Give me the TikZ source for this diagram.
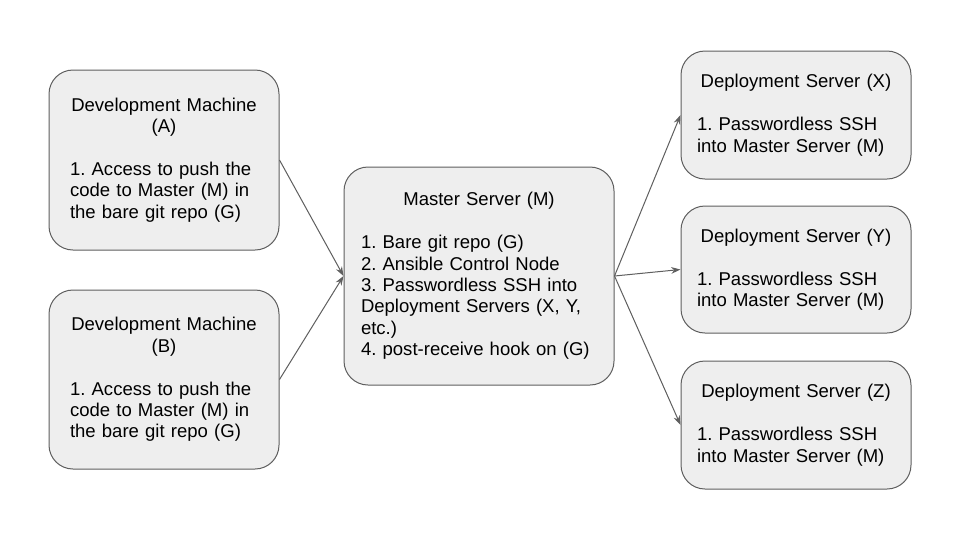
\documentclass[tikz,border=0pt]{standalone}
\usepackage{fontspec}
\setmainfont{Liberation Sans}
\frenchspacing
\usetikzlibrary{arrows.meta}
\definecolor{boxfill}{HTML}{EEEEEE}
\definecolor{boxline}{HTML}{5F5F5F}
\definecolor{arrowc}{HTML}{5F5F5F}
\begin{document}
\begin{tikzpicture}[x=0.75pt,y=-0.75pt,
  box/.style={draw=boxline, fill=boxfill, rounded corners=18pt, line width=0.75pt,
    inner sep=0pt, font=\fontsize{13.9}{16.1}\selectfont\frenchspacing},
  conn/.style={draw=arrowc, line width=0.75pt, -{Stealth[length=7pt,width=5pt]}}]
\useasboundingbox (0,0) rectangle (960,540);
\fill[white] (0,0) rectangle (960,540);

\node[box, minimum width=172.5pt, minimum height=135pt, text width=141pt] (A) at (164,160)
  {\centering Development Machine\\(A)\par\vskip16.1pt\raggedright
   1. Access to push the\\code to Master (M) in\\the bare git repo (G)\par};
\node[box, minimum width=172.5pt, minimum height=134.25pt, text width=141pt] (B) at (164,379.5)
  {\centering Development Machine\\(B)\par\vskip16.1pt\raggedright
   1. Access to push the\\code to Master (M) in\\the bare git repo (G)\par};
\node[box, minimum width=202.5pt, minimum height=163.5pt, text width=177pt] (M) at (479,276)
  {\centering Master Server (M)\par\vskip16.1pt\raggedright
   1. Bare git repo (G)\\2. Ansible Control Node\\3. Passwordless SSH into\\Deployment Servers (X, Y,\\etc.)\\4. post-receive hook on (G)\par};
\node[box, minimum width=172.5pt, minimum height=96pt, text width=148.5pt] (X) at (796,115)
  {\centering Deployment Server (X)\par\vskip16.1pt\raggedright
   1. Passwordless SSH\\into Master Server (M)\par};
\node[box, minimum width=172.5pt, minimum height=95.25pt, text width=148.5pt] (Y) at (796,269.5)
  {\centering Deployment Server (Y)\par\vskip16.1pt\raggedright
   1. Passwordless SSH\\into Master Server (M)\par};
\node[box, minimum width=172.5pt, minimum height=96pt, text width=148.5pt] (Z) at (796,425)
  {\centering Deployment Server (Z)\par\vskip16.1pt\raggedright
   1. Passwordless SSH\\into Master Server (M)\par};

\draw[conn] (A.east) -- (M.west);
\draw[conn] (B.east) -- (M.west);
\draw[conn] (M.east) -- (X.west);
\draw[conn] (M.east) -- (Y.west);
\draw[conn] (M.east) -- (Z.west);
\end{tikzpicture}
\end{document}
